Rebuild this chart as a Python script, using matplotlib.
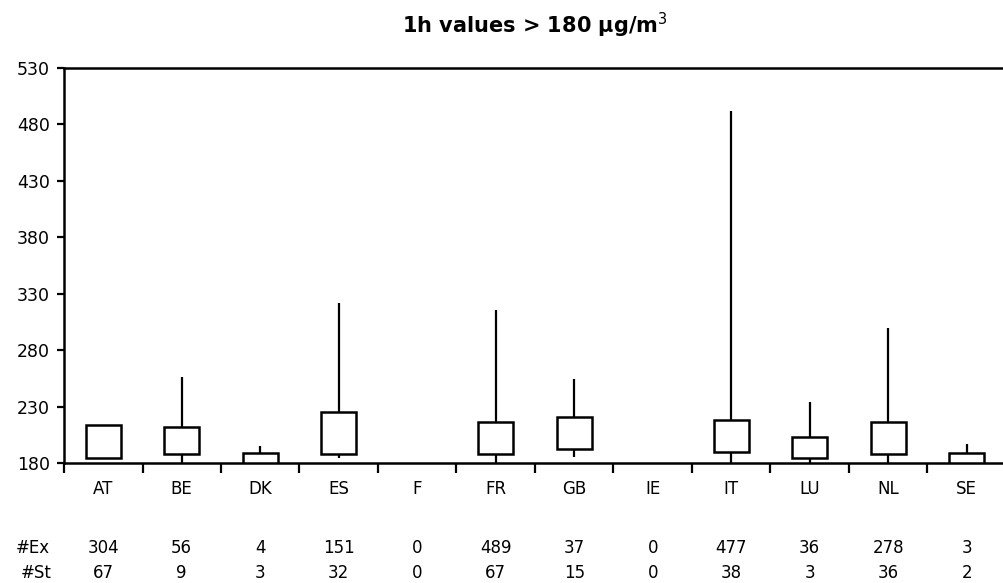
import numpy as np
import matplotlib
matplotlib.use('Agg')
import matplotlib.pyplot as plt

# Countries and box values (ug/m3), NaN = no exceedances
countries = ['AT', 'BE', 'DK', 'ES', 'F', 'FR', 'GB', 'IE', 'IT', 'LU', 'NL', 'SE']
whisk_lo = [184, 180, 180, 184, np.nan, 180, 185, np.nan, 180, 180, 180, 180]
box_lo   = [184, 188, 180, 188, np.nan, 188, 192, np.nan, 190, 184, 188, 180]
box_hi   = [214, 212, 189, 225, np.nan, 216, 221, np.nan, 218, 203, 216, 189]
whisk_hi = [214, 256, 195, 322, np.nan, 316, 254, np.nan, 492, 234, 300, 197]

# Table rows under the chart
n_exceed = ['304', '56', '4', '151', '0', '489', '37', '0', '477', '36', '278', '3']
n_station = ['67', '9', '3', '32', '0', '67', '15', '0', '38', '3', '36', '2']

plt.rcParams['font.family'] = 'DejaVu Sans'

fig = plt.figure(figsize=(10.04, 5.83), dpi=100)
ax = fig.add_axes([64 / 1004, 1 - 463 / 583, 942 / 1004, 395 / 583])

x = np.arange(len(countries)) + 0.5
lo = np.array(box_lo)
hi = np.array(box_hi)

# whiskers first, boxes on top
ax.vlines(x, whisk_lo, box_lo, color='black', lw=1.6)
ax.vlines(x, box_hi, whisk_hi, color='black', lw=1.6)
ax.bar(x, hi - lo, bottom=lo, width=0.45, facecolor='white',
       edgecolor='black', linewidth=1.8, zorder=3)

ax.set_xlim(0, len(countries))
ax.set_ylim(180, 530)
ax.set_yticks(np.arange(180, 531, 50))

# category labels at centres, tick marks at boundaries
ax.set_xticks(x)
ax.set_xticklabels(countries)
ax.tick_params(axis='x', which='major', length=0, pad=12, labelsize=12)
ax.set_xticks(np.arange(0, len(countries) + 1), minor=True)
ax.tick_params(axis='x', which='minor', length=7, width=1.6, direction='out')
ax.tick_params(axis='y', length=5, width=1.6, direction='out', labelsize=12.5, pad=5)

for s in ['left', 'bottom', 'top']:
    ax.spines[s].set_linewidth(1.8)
ax.spines['right'].set_visible(False)

# table rows
trans = ax.get_xaxis_transform()
for xi, ex, st in zip(x, n_exceed, n_station):
    ax.text(xi, -0.215, ex, transform=trans, ha='center', va='center', fontsize=12)
    ax.text(xi, -0.278, st, transform=trans, ha='center', va='center', fontsize=12)
fig.text(50 / 1004, 1 - 548 / 583, '#Ex', ha='right', va='center', fontsize=12)
fig.text(52 / 1004, 1 - 573 / 583, '#St', ha='right', va='center', fontsize=12)

fig.text(535 / 1004, 1 - 25 / 583, '1h values > 180 \u00b5g/m$^3$',
         ha='center', va='center', fontsize=15, fontweight='bold')

fig.savefig('out.png', dpi=100)
